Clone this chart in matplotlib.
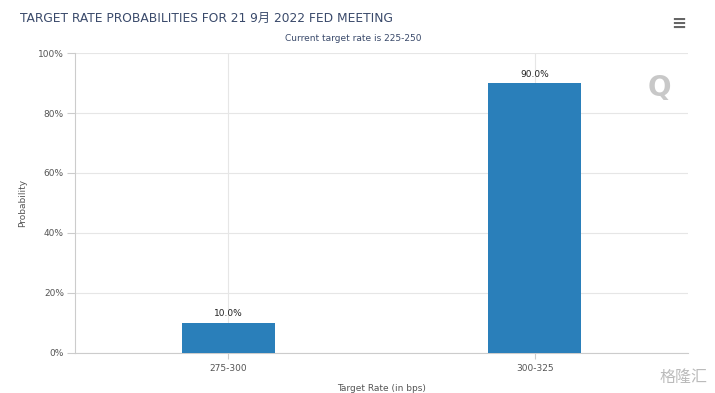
import numpy as np
import matplotlib.pyplot as plt

plt.rcParams['font.family'] = ['DejaVu Sans', 'Noto Sans CJK SC']

# data
categories = ['275-300', '300-325']
probs = [10.0, 90.0]
yticks = [0, 20, 40, 60, 80, 100]

fig = plt.figure(figsize=(7.15, 3.93), dpi=100)
ax = fig.add_axes([0.105, 0.102, 0.857, 0.763])

x = np.arange(len(categories))
bars = ax.bar(x, probs, width=0.305, color='#2a7fba', zorder=3)
for xi, p in zip(x, probs):
    ax.text(xi, p + 1.5, '%.1f%%' % p, ha='center', va='bottom',
            fontsize=6.5, color='#222222', zorder=4)

ax.set_xlim(-0.5, 1.5)
ax.set_ylim(0, 100)
ax.set_xticks(x)
ax.set_xticklabels(categories, fontsize=6.5, color='#555555')
ax.set_yticks(yticks)
ax.set_yticklabels(['%d%%' % t for t in yticks], fontsize=6.5, color='#555555')
ax.grid(True, color='#e6e6e6', linewidth=0.8, zorder=0)
ax.tick_params(axis='y', length=6, color='#cccccc', pad=2)
ax.tick_params(axis='x', length=4, color='#cccccc', pad=4)
for s in ['top', 'right']:
    ax.spines[s].set_visible(False)
ax.spines['left'].set_color('#cccccc')
ax.spines['bottom'].set_color('#cccccc')

ax.set_ylabel('Probability', fontsize=6.5, color='#555555', labelpad=8)
ax.set_xlabel('Target Rate (in bps)', fontsize=6.5, color='#555555', labelpad=8)

fig.text(0.028, 0.952, 'TARGET RATE PROBABILITIES FOR 21 9月 2022 FED MEETING',
         fontsize=8.8, color='#3a4a6b', ha='left', va='center',
         family=['DejaVu Sans', 'Noto Sans CJK SC'])
fig.text(0.494, 0.901, 'Current target rate is 225-250', fontsize=6.5,
         color='#3a4a6b', ha='center', va='center')
fig.text(0.949, 0.94, '≡', fontsize=13, color='#666666', ha='center', va='center',
         fontweight='bold')
fig.text(0.922, 0.775, 'Q', fontsize=20, color='#c8c8c8', ha='center', va='center',
         fontweight='bold')
fig.text(0.99, 0.04, '格隆汇', fontsize=11.5, color='#bbbbbb', ha='right', va='center',
         family=['Noto Sans CJK SC'])

fig.savefig('out.png', dpi=100)
